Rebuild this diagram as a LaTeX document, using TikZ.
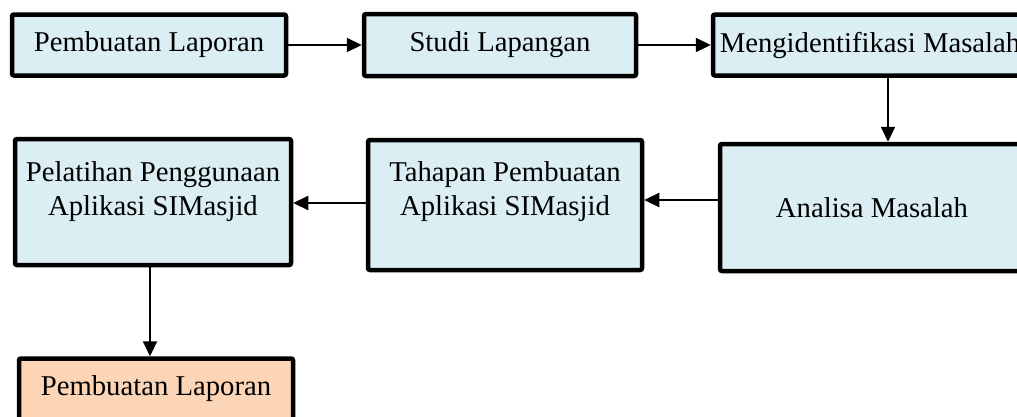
\documentclass[tikz,border=0pt]{standalone}
\usepackage{fontspec}
\setmainfont{Liberation Serif}
\usetikzlibrary{arrows.meta}
\definecolor{boxblue}{HTML}{DAEEF3}
\definecolor{boxorange}{HTML}{FBD5B5}
\begin{document}
\begin{tikzpicture}[x=1pt,y=-1pt,
  box/.style={draw=black, line width=4.5pt, rounded corners=2pt, fill=boxblue, inner sep=0pt,
    font=\fontsize{28.7}{34}\selectfont, align=center},
  txt/.style={inner sep=0pt, font=\fontsize{28.7}{34}\selectfont, align=center},
  arr/.style={line width=2.2pt, -{Triangle[length=15pt,width=14pt]}}]
\useasboundingbox (0,0) rectangle (1017,416);
\clip (0,0) rectangle (1017,416);
% top row
\node[box, minimum width=274pt, minimum height=61pt] (b1) at (149,45) {Pembuatan Laporan};
\node[box, minimum width=272pt, minimum height=62pt] (b2) at (500,45) {Studi Lapangan};
\node[box, minimum width=314pt, minimum height=61pt] (b3) at (870,45) {Mengidentifikasi Masalah};
% middle row
\node[box, minimum width=304pt, minimum height=127pt] (b4) at (872,207.5) {Analisa Masalah};
\node[box, minimum width=274pt, minimum height=130pt] (b5) at (505,205) {};
\node[txt] (t5) at (505,192) {Tahapan Pembuatan\\Aplikasi SIMasjid};
\node[box, minimum width=276pt, minimum height=126pt] (b6) at (153,202) {};
\node[txt] (t6) at (153,192) {Pelatihan Penggunaan\\Aplikasi SIMasjid};
% bottom
\node[box, fill=boxorange, minimum width=274pt, minimum height=61pt] (b7) at (156,389) {Pembuatan Laporan};
% connectors
\coordinate (vx1) at (888,0);
\coordinate (hy1) at (0,200);
\coordinate (hy2) at (0,203);
\coordinate (vx2) at (150,0);
\draw[arr] (b1) -- (b2);
\draw[arr] (b2) -- (b3);
\draw[arr] (vx1 |- b3.south) -- (vx1 |- b4.north);
\draw[arr] (b4.west |- hy1) -- (b5.east |- hy1);
\draw[arr] (b5.west |- hy2) -- (b6.east |- hy2);
\draw[arr] (vx2 |- b6.south) -- (vx2 |- b7.north);
\end{tikzpicture}
\end{document}
